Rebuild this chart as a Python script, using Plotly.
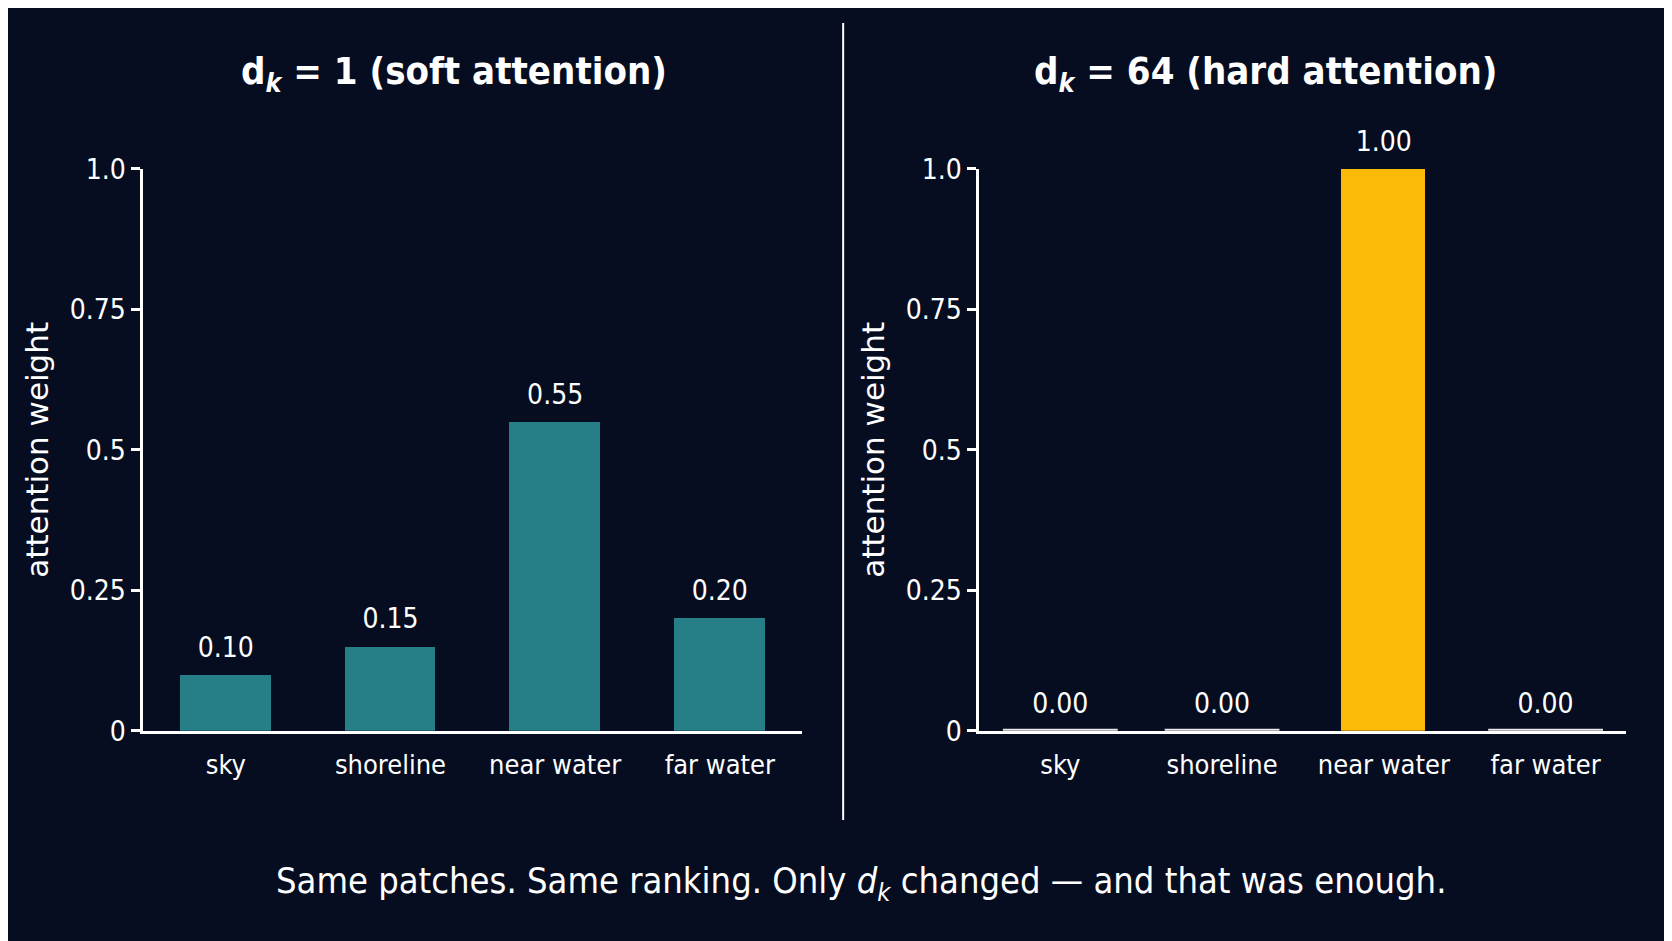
import plotly.graph_objects as go
from plotly.subplots import make_subplots

patches = ['sky', 'shoreline', 'near water', 'far water']
soft_weights = [0.10, 0.15, 0.55, 0.20]
hard_weights = [0.00, 0.00, 1.00, 0.00]
tick_vals = [0, 0.25, 0.5, 0.75, 1.0]
tick_text = ['0', '0.25', '0.5', '0.75', '1.0']

bg = '#060d20'
teal = '#267f87'
amber = '#fbb908'
narrow = 'Liberation Sans Narrow, DejaVu Sans Condensed, Roboto, sans-serif'

fig = make_subplots(rows=1, cols=2)

# invisible marker under each label just to lift the text off the bar top
label_marker = dict(size=16, color='rgba(0,0,0,0)')

# left panel - soft attention
fig.add_trace(go.Bar(x=patches, y=soft_weights, marker_color=teal, width=0.55,
                     marker_line_width=0), row=1, col=1)
fig.add_trace(go.Scatter(x=patches, y=soft_weights, mode='markers+text', marker=label_marker,
                         text=['%.2f' % v for v in soft_weights], textposition='top center',
                         cliponaxis=False,
                         textfont=dict(size=28, color='white', family=narrow)), row=1, col=1)

# right panel - hard attention
hard_colors = [amber if v > 0 else '#e6e6e6' for v in hard_weights]
fig.add_trace(go.Bar(x=patches, y=hard_weights, marker_color=hard_colors, width=0.52,
                     marker_line_width=0), row=1, col=2)
# zero weights still get a thin sliver so the bar slot shows
zeros = [p for p, v in zip(patches, hard_weights) if v == 0]
fig.add_trace(go.Scatter(x=zeros, y=[0] * len(zeros), mode='markers',
                         marker=dict(symbol='line-ew', size=82, line=dict(width=4, color='#e6e6e6'))),
              row=1, col=2)
fig.add_trace(go.Scatter(x=patches, y=hard_weights, mode='markers+text', marker=label_marker,
                         text=['%.2f' % v for v in hard_weights], textposition='top center',
                         cliponaxis=False,
                         textfont=dict(size=28, color='white', family=narrow)), row=1, col=2)

axis_style = dict(showgrid=False, zeroline=False, showline=True, linecolor='white', linewidth=3,
                  automargin=False, tickfont=dict(size=28, color='white', family=narrow))
fig.update_xaxes(**axis_style, ticks='', range=[-0.5, 3.5], tickfont_size=27, ticklabelstandoff=8)
fig.update_yaxes(**axis_style, range=[0, 1.0], tickvals=tick_vals, ticktext=tick_text,
                 ticks='outside', ticklen=9, tickwidth=3, tickcolor='white',
                 title=dict(text='attention weight', standoff=12,
                            font=dict(size=31, color='white', family='DejaVu Sans')))

title_font = dict(size=38, color='white', family=narrow)
fig.update_layout(
    width=1672, height=941,
    template='none',
    paper_bgcolor=bg, plot_bgcolor=bg,
    showlegend=False, bargap=0,
    margin=dict(l=0, r=0, t=0, b=0),
    xaxis=dict(domain=[0.081, 0.475]),
    xaxis2=dict(domain=[0.581, 0.968]),
    yaxis=dict(domain=[0.232, 0.829]),
    yaxis2=dict(domain=[0.232, 0.829]),
    annotations=[
        dict(text='<b>d<sub><i>k</i></sub> = 1 (soft attention)</b>', x=0.267, y=0.93,
             xref='paper', yref='paper', xanchor='center', yanchor='middle', showarrow=False,
             font=title_font),
        dict(text='<b>d<sub><i>k</i></sub> = 64 (hard attention)</b>', x=0.752, y=0.93,
             xref='paper', yref='paper', xanchor='center', yanchor='middle', showarrow=False,
             font=title_font),
        dict(text='Same patches. Same ranking. Only <i>d</i><sub><i>k</i></sub> changed \u2014 and that was enough.',
             x=0.51, y=0.07, xref='paper', yref='paper', xanchor='center', yanchor='middle',
             showarrow=False, font=dict(size=36, color='white', family=narrow)),
    ],
    shapes=[dict(type='line', xref='paper', yref='paper', x0=0.4995, x1=0.4995, y0=0.137, y1=0.984,
                 line=dict(color='white', width=2))],
)

fig.write_html('out.html')
